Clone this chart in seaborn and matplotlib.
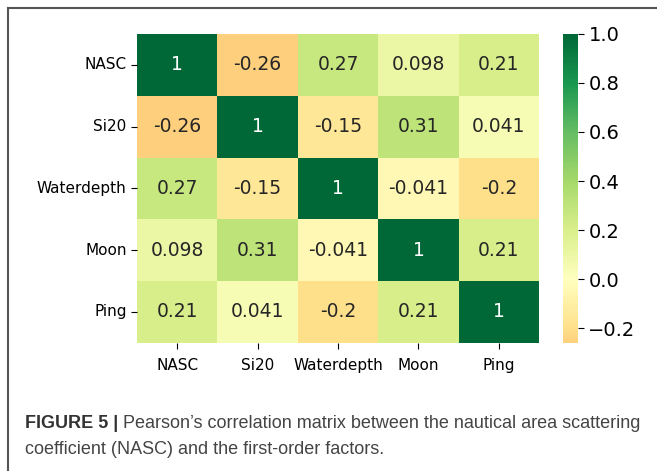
import numpy as np
import pandas as pd
import seaborn as sns
from matplotlib import pyplot as plt
from matplotlib.lines import Line2D

factors = ["NASC", "Si20", "Waterdepth", "Moon", "Ping"]
nasc = [1, -0.26, 0.27, 0.098, 0.21]
si20 = [-0.26, 1, -0.15, 0.31, 0.041]
waterdepth = [0.27, -0.15, 1, -0.041, -0.2]
moon = [0.098, 0.31, -0.041, 1, 0.21]
ping = [0.21, 0.041, -0.2, 0.21, 1]

corr = pd.DataFrame([nasc, si20, waterdepth, moon, ping], index=factors, columns=factors)

fig = plt.figure(figsize=(6.57, 4.71), dpi=100)
ax = fig.add_axes([0.2085, 0.272, 0.612, 0.656])
cax = fig.add_axes([0.857, 0.272, 0.0228, 0.656])

sns.heatmap(corr, cmap="RdYlGn", center=0, annot=True, annot_kws={"size": 13.5},
            ax=ax, cbar_ax=cax)
ax.set_yticklabels(factors, rotation=0, fontsize=11)
ax.set_xticklabels(factors, rotation=0, fontsize=11)
ax.tick_params(length=4)
ax.tick_params(axis="x", pad=7)
cax.tick_params(labelsize=14, length=4)
cax.set_yticks([-0.2, 0.0, 0.2, 0.4, 0.6, 0.8, 1.0])

# frame around the figure panel
fig.add_artist(Line2D([8/657, 1.0], [1 - 8/471, 1 - 8/471], color="#555555", lw=1.5,
                      transform=fig.transFigure))
fig.add_artist(Line2D([8/657, 8/657], [0.0, 1 - 8/471], color="#555555", lw=1.5,
                      transform=fig.transFigure))

# caption
fig.canvas.draw()
r = fig.canvas.get_renderer()
t1 = fig.text(25/657, 1 - 423/471, "FIGURE 5 |", fontsize=13, fontweight="bold",
              family="Liberation Sans", color="#333333", va="center")
bb = t1.get_window_extent(renderer=r)
fig.text((bb.x1 + 5) / 657, 1 - 423/471,
         "Pearson\u2019s correlation matrix between the nautical area scattering",
         fontsize=13, family="Liberation Sans", color="#444444", va="center")
fig.text(25/657, 1 - 449/471, "coefficient (NASC) and the first-order factors.",
         fontsize=13, family="Liberation Sans", color="#444444", va="center")

fig.savefig("out.png", dpi=100)
